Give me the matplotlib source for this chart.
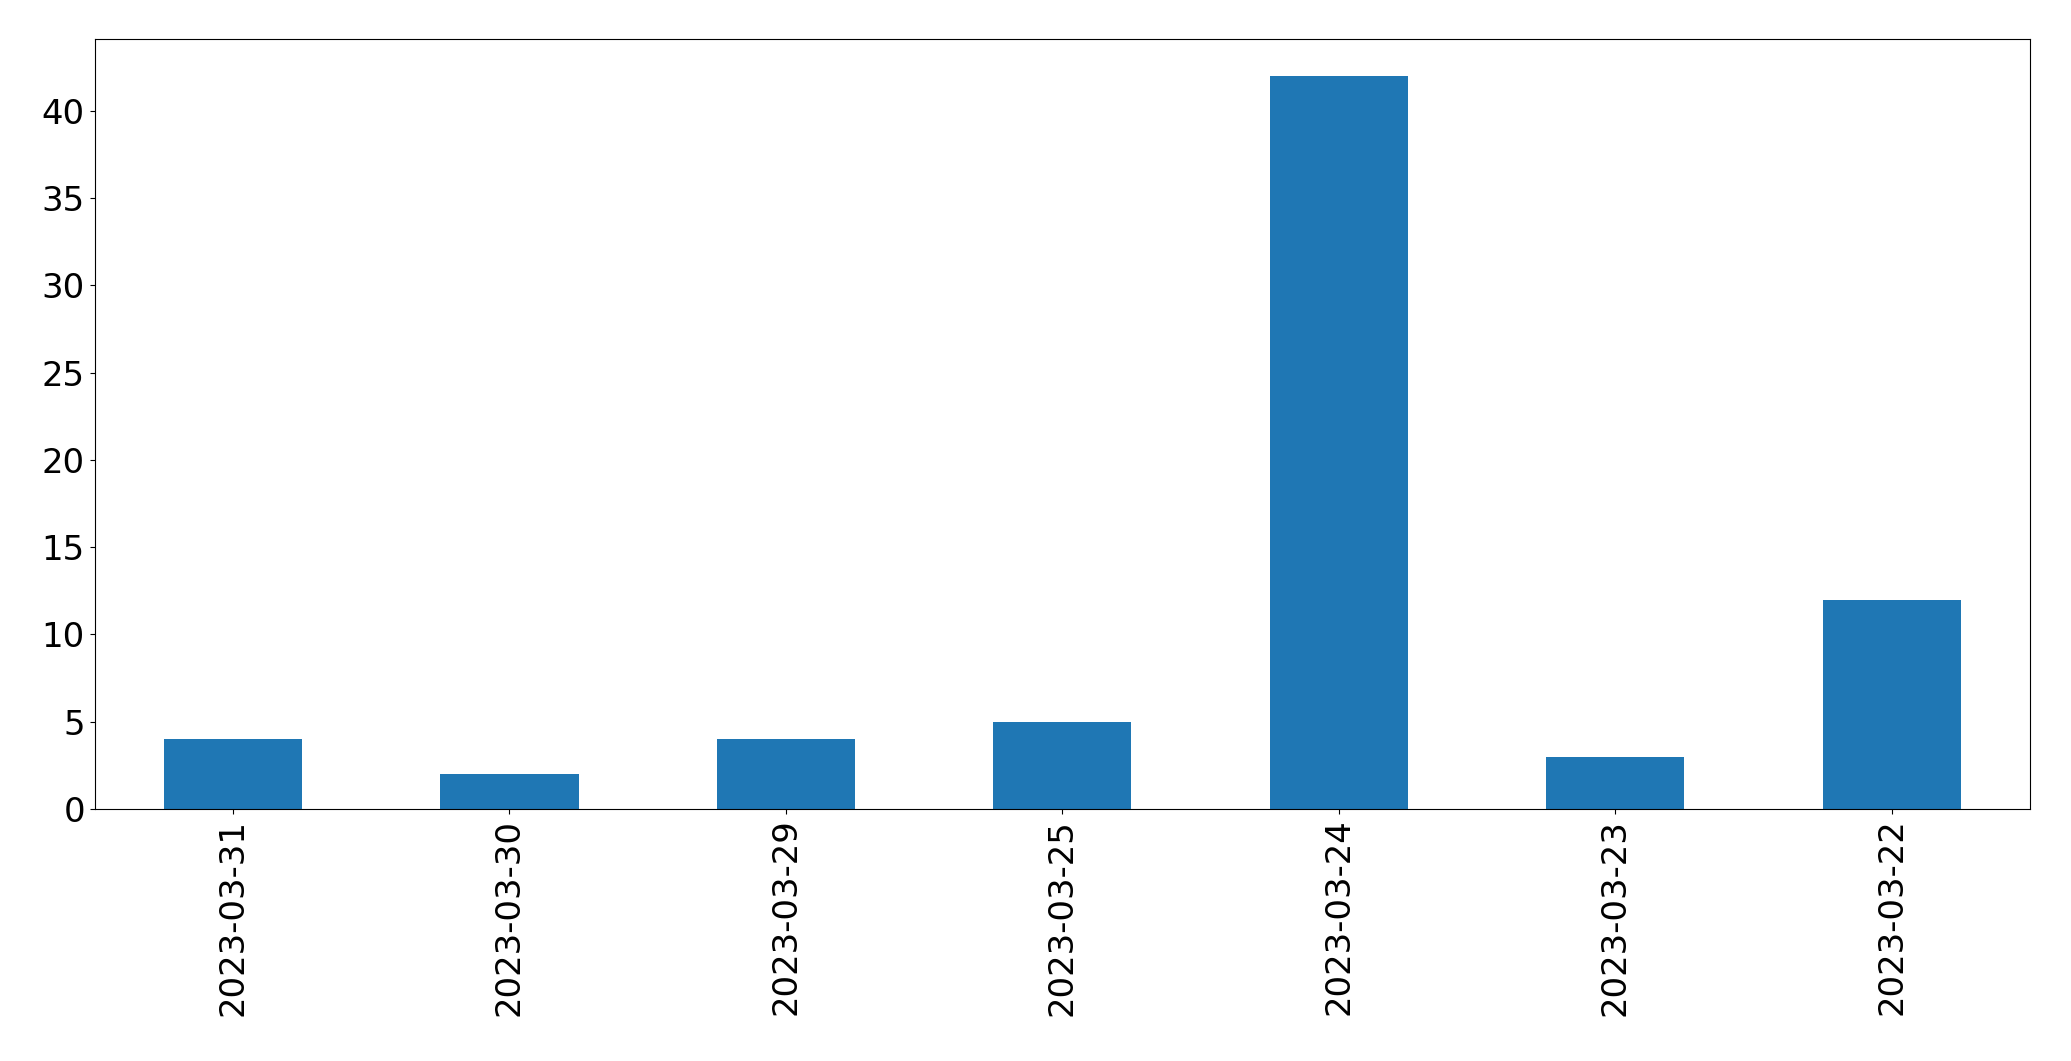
import matplotlib
matplotlib.use("Agg")
import matplotlib.pyplot as plt
import numpy as np

dates = ["2023-03-31", "2023-03-30", "2023-03-29", "2023-03-25",
         "2023-03-24", "2023-03-23", "2023-03-22"]
counts = [4, 2, 4, 5, 42, 3, 12]

W, H = 2071, 1061
fig = plt.figure(figsize=(W / 100, H / 100), dpi=100)
ax = fig.add_axes([94.7 / W, 1 - 809 / H, (2030 - 94.7) / W, (809 - 39.3) / H])

x = np.arange(len(dates))
ax.bar(x, counts, width=0.5, color="#1f77b4")
ax.set_xlim(-0.5, len(dates) - 0.5)
ax.set_ylim(0, max(counts) * 1.05)
ax.set_xticks(x)
ax.set_xticklabels(dates, rotation=90)
ax.tick_params(labelsize=24.4)

fig.savefig("out.png", dpi=100)
